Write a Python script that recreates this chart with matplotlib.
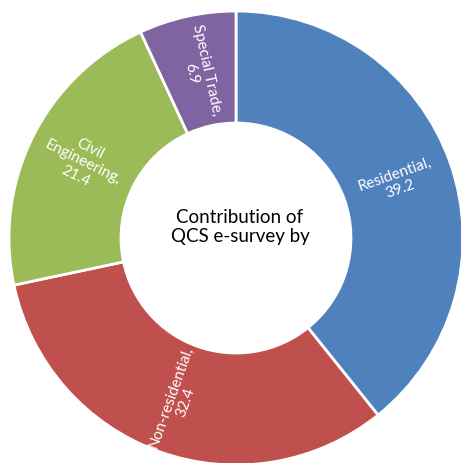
import numpy as np
import matplotlib
matplotlib.use("Agg")
import matplotlib.pyplot as plt

categories = ["Residential", "Non-residential", "Civil\nEngineering", "Special Trade"]
values = [39.2, 32.4, 21.4, 6.9]
colors = ["#4F81BD", "#C0504D", "#9BBB59", "#8064A2"]
center_title = "Contribution of\nQCS e-survey by"

W, H = 461, 464
fig = plt.figure(figsize=(W / 100, H / 100), dpi=100)
ax = fig.add_axes([0, 0, 1, 1])

cx, cy = 236, H - 239
R_out, R_in = 227, 115
width = (R_out - R_in)

wedges, _ = ax.pie(values, colors=colors, startangle=90, counterclock=False,
                   center=(cx, cy), radius=R_out,
                   wedgeprops=dict(width=width, edgecolor="white", linewidth=2),
                   frame=True)
ax.set_xlim(0, W)
ax.set_ylim(0, H)
ax.set_aspect("equal")
ax.axis("off")

font = ["Lato", "DejaVu Sans"]
r_mid = (R_out + R_in) / 2
for w, cat, v in zip(wedges, categories, values):
    mid = (w.theta1 + w.theta2) / 2
    a = np.deg2rad(mid)
    x = cx + r_mid * np.cos(a)
    y = cy + r_mid * np.sin(a)
    rot = ((mid + 90) % 180) - 90
    ax.text(x, y, f"{cat},\n{v}", ha="center", va="center", rotation=rot,
            rotation_mode="anchor", color="white", fontsize=11,
            family=font, multialignment="center", linespacing=1.15)

ax.text(cx + 4, cy + 12, center_title, ha="center", va="center",
        fontsize=13.5, family=font, color="black", linespacing=1.2)

fig.savefig("out.png", dpi=100)
